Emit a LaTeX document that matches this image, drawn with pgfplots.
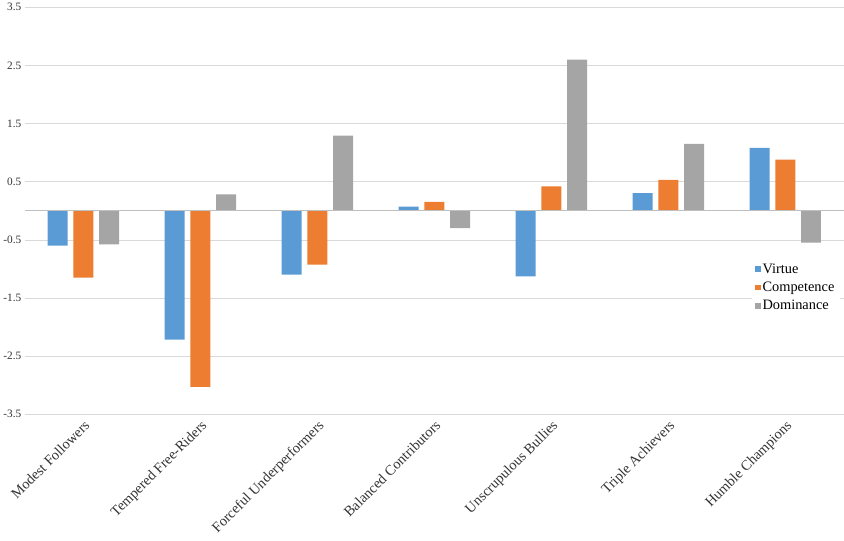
\documentclass[border=0pt]{standalone}
\usepackage{pgfplots}
\pgfplotsset{compat=1.18}
\usepackage{fontspec}
\setmainfont{Liberation Serif}
\definecolor{cV}{HTML}{5B9BD5}
\definecolor{cC}{HTML}{ED7D31}
\definecolor{cD}{HTML}{A5A5A5}
\begin{document}
\begin{tikzpicture}
\begin{axis}[
  scale only axis, width=795bp, height=395bp,
  xmin=-0.5, xmax=6.5, ymin=-3.5, ymax=3.5,
  ytick={-3.5,-2.5,-1.5,-0.5,0.5,1.5,2.5,3.5},
  yticklabels={-3.5,-2.5,-1.5,-0.5,0.5,1.5,2.5,3.5},
  xtick={0,...,6}, xticklabels={Modest Followers,Tempered Free-Riders,Forceful Underperformers,Balanced Contributors,Unscrupulous Bullies,Triple Achievers,Humble Champions},
  xticklabel style={rotate=45, anchor=north east, font=\fontsize{14}{16}\selectfont, color=black!80},
  yticklabel style={font=\fontsize{11}{13}\selectfont, color=black!80},
  ymajorgrids, grid style={black!15},
  major tick length=0pt,
  axis line style={draw=none},
  ybar=0pt, bar width=0.17,
  legend style={at={(0.995,0.38)}, anchor=north east, draw=none, font=\fontsize{14}{17}\selectfont, legend cell align=left, row sep=3pt},
  legend image code/.code={\fill[#1] (0cm,-0.1cm) rectangle (0.2cm,0.1cm);},
  /pgf/number format/assume math mode=true,
]
\addplot[fill=cV, draw=none, bar shift=-0.22] coordinates {(0,-0.6) (1,-2.22) (2,-1.1) (3,0.07) (4,-1.13) (5,0.3) (6,1.08)};
\addplot[fill=cC, draw=none, bar shift=0] coordinates {(0,-1.15) (1,-3.03) (2,-0.93) (3,0.15) (4,0.42) (5,0.53) (6,0.88)};
\addplot[fill=cD, draw=none, bar shift=0.22] coordinates {(0,-0.58) (1,0.28) (2,1.29) (3,-0.3) (4,2.6) (5,1.15) (6,-0.55)};
\legend{Virtue,Competence,Dominance}
\draw[black!25] (axis cs:-0.5,0) -- (axis cs:6.5,0);
\end{axis}
\end{tikzpicture}
\end{document}
